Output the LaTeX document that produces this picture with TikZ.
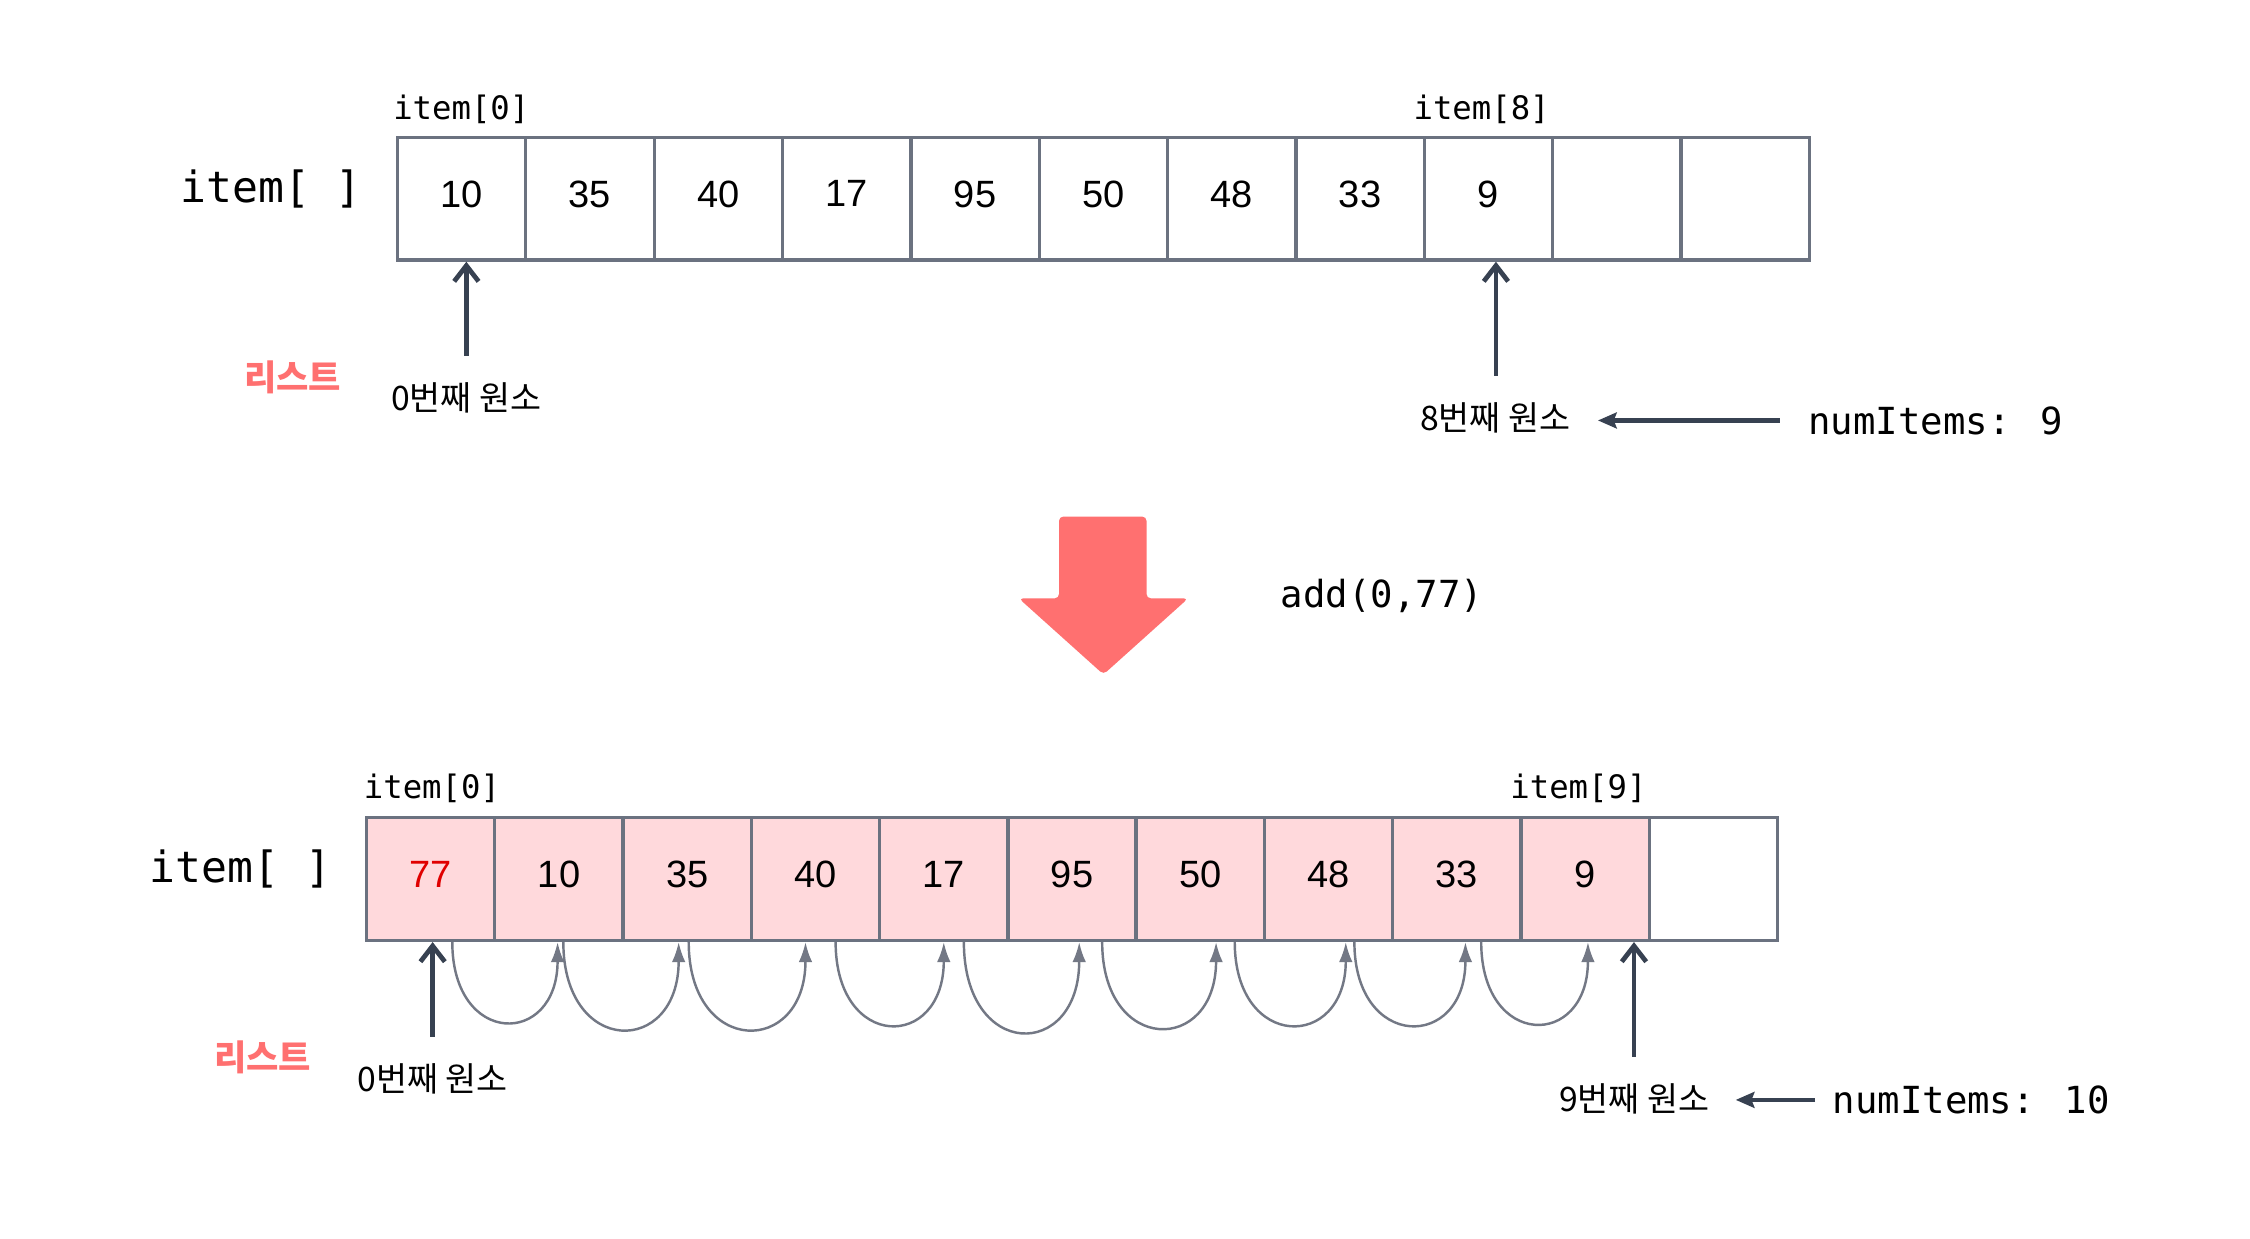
\documentclass[tikz,border=0pt]{standalone}
\usepackage{fontspec}
\setmainfont{Liberation Sans}
\newfontfamily\monof{DejaVu Sans Mono}
\newfontfamily\krf{Noto Sans CJK KR}
\usetikzlibrary{arrows.meta,calc}
\definecolor{cellline}{HTML}{6B7280}
\definecolor{ptrcol}{HTML}{374151}
\definecolor{salmon}{HTML}{FF7070}
\definecolor{pinkfill}{HTML}{FFD9DC}
\definecolor{redtxt}{HTML}{E00000}
\definecolor{shiftcol}{HTML}{737885}
\begin{document}
\begin{tikzpicture}[x=1pt,y=-1pt,
 cell/.style={draw=cellline, line width=2.3pt, minimum width=89.44pt, minimum height=85.5pt, inner sep=0pt, text depth=7pt, font=\fontsize{26.5}{30}\selectfont},
 fcell/.style={cell, fill=pinkfill},
 monolbl/.style={inner sep=0pt, font=\monof\fontsize{22.5}{26}\selectfont},
 arrlbl/.style={inner sep=0pt, font=\monof\fontsize{30}{34}\selectfont},
 codelbl/.style={inner sep=0pt, font=\monof\fontsize{26}{30}\selectfont},
 krlbl/.style={inner sep=0pt, font=\krf\fontsize{23.5}{27}\selectfont},
 listlbl/.style={inner sep=0pt, text=salmon, font=\krf\bfseries\fontsize{24.5}{28}\selectfont},
 ptr/.style={draw=ptrcol, line width=3.3pt, -{Straight Barb[length=11pt,width=17pt]}},
 lptr/.style={draw=ptrcol, line width=3pt, -{Stealth[length=13pt,width=11pt,inset=2pt]}},
 shiftarr/.style={draw=shiftcol, line width=1.7pt, -{Latex[length=14pt,width=9.5pt]}}]
\fill[white] (0,0) rectangle (1568,863);
\useasboundingbox (0,0) rectangle (1568,863);

% ---- top array ----
\foreach \v [count=\i from 0] in {10,35,40,17,95,50,48,33,9,{},{}}
  \node[cell] (t\i) at ({277+89.44*(\i+0.5)},138.5) {\v};

\node[arrlbl] (ta) at (189,132) {item[ ]};
\node[monolbl] (ti0) at (321.5,76) {item[0]};
\node[monolbl] (ti8) at (1032.5,76) {item[8]};
\node[listlbl] (tl) at (204,262.7) {리스트};
\node[krlbl] (l0) at (325,277) {0번째 원소};
\node[krlbl] (l8) at (1042,291) {8번째 원소};
\node[codelbl] (n1) at (1349,293) {numItems: 9};
\coordinate (p0) at (325,248);
\coordinate (p8) at (1042.5,262);
\draw[ptr] (p0) -- (p0 |- t0.south);
\draw[ptr] (p8) -- (p8 |- t8.south);
\draw[lptr] ([xshift=-20pt]n1.west) -- ($(l8.east |- n1.west)+(19,0)$);

% ---- big arrow ----
\fill[salmon, rounded corners=3pt] (738,360) -- (799,360) -- (799,417) -- (828,417) -- (769,470) -- (710,417) -- (738,417) -- cycle;
\node[codelbl] (add) at (963,415) {add(0,77)};

% ---- bottom array ----
\node[fcell, text=redtxt] (b0) at ({255.5+89.38*0.5},612.6) {77};
\foreach \v [count=\i from 1] in {10,35,40,17,95,50,48,33,9}
  \node[fcell] (b\i) at ({255.5+89.38*(\i+0.5)},612.6) {\v};
\node[cell] (b10) at ({255.5+89.38*10.5},612.6) {};

\node[arrlbl] (ba) at (167.6,605.7) {item[ ]};
\node[monolbl] (bi0) at (301,549.5) {item[0]};
\node[monolbl] (bi9) at (1100,549.5) {item[9]};
\node[listlbl] (bl) at (183,736.5) {리스트};
\node[krlbl] (m0) at (301.5,751.5) {0번째 원소};
\node[krlbl] (m9) at (1139,765.5) {9번째 원소};
\node[codelbl] (n2) at (1373.7,766.5) {numItems: 10};
\coordinate (q0) at (301.5,722.5);
\coordinate (q9) at (1138.7,736.5);
\draw[ptr] (q0) -- (q0 |- b0.south);
\draw[ptr] (q9) -- (q9 |- b9.south);
\draw[lptr] ([xshift=-12pt]n2.west) -- ($(m9.east |- n2.west)+(18,0)$);

\foreach \i/\s/\e/\d in {0/15/-1/55,1/3/-6/60,2/1/-7/60,3/14/0/57,4/14/5/62,5/21/11/59,6/24/12/57,7/18/6/57,8/17/2/56}{
  \pgfmathtruncatemacro{\j}{\i+1}
  \draw[shiftarr] ([xshift=\s pt]b\i.south) .. controls +(0,{\d*4/3}) and +(0,{\d*4/3}) .. ([xshift=\e pt]b\j.south);
}
\end{tikzpicture}
\end{document}
